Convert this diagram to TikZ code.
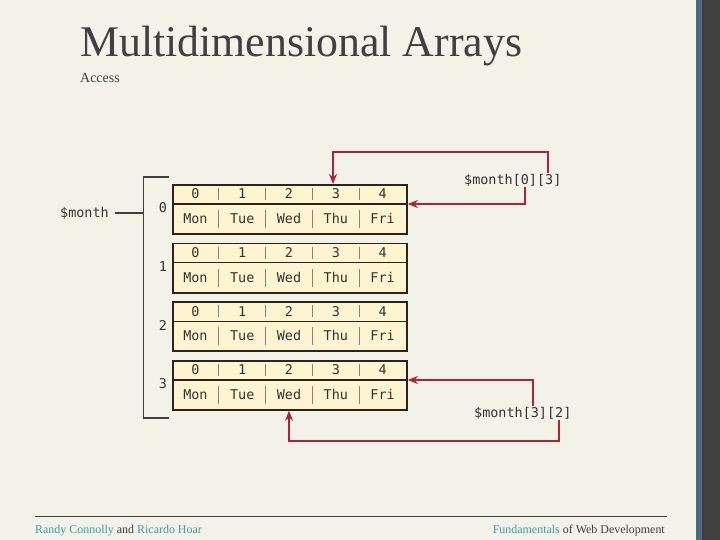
\documentclass[tikz,border=0pt]{standalone}
\usepackage{fontspec}
\setmainfont{Liberation Serif}
\newfontfamily\cellfont{DejaVu Sans Mono}
\usetikzlibrary{arrows.meta}
\definecolor{bg}{RGB}{242,242,232}
\definecolor{cellfill}{RGB}{255,244,208}
\definecolor{arrowred}{RGB}{178,34,52}
\definecolor{footteal}{RGB}{60,158,168}
\definecolor{stripblue}{RGB}{78,106,126}
\definecolor{stripdark}{RGB}{64,64,64}
\definecolor{txt}{RGB}{64,64,64}
\definecolor{celltxt}{RGB}{50,50,50}
\definecolor{boxline}{RGB}{40,36,30}
\definecolor{divgray}{RGB}{130,130,130}
\tikzset{
  rowbox/.style={draw=boxline, line width=1.8bp, fill=cellfill, minimum width=234bp, minimum height=49bp, inner sep=0, anchor=north west},
  celltext/.style={font=\cellfont\fontsize{13.5}{15}\selectfont, text=celltxt, inner sep=0},
  sepline/.style={draw=boxline, line width=1.6bp},
  divline/.style={draw=divgray, line width=0.8bp},
  bracketline/.style={draw=txt, line width=1.5bp},
  redarrow/.style={draw=arrowred, line width=1.8bp, -{Stealth[length=10bp,width=8bp]}},
}
\begin{document}
\begin{tikzpicture}[x=1bp,y=-1bp]
\fill[bg] (0,0) rectangle (720,540);
\fill[stripblue] (696,0) rectangle (702,540);
\fill[stripdark] (702,0) rectangle (720,540);
\useasboundingbox (0,0) rectangle (720,540);

\node[anchor=base west, inner sep=0, font=\fontsize{44}{48}\selectfont, text=txt] (title) at (80,57) {Multidimensional Arrays};
\node[anchor=base west, inner sep=0, font=\fontsize{14}{16}\selectfont, text=txt] (sub) at (80,83) {Access};

\foreach \r/\t in {0/184,1/242.7,2/301.3,3/360}{
  \node[rowbox] (row\r) at (172,\t) {};
  \coordinate (sep\r) at (172,\t+20);
  \draw[sepline] (row\r.west |- sep\r) -- (row\r.east |- sep\r);
  \foreach \k in {1,2,3,4}{
    \draw[divline] (172+46.8*\k,\t+4) -- (172+46.8*\k,\t+16);
    \draw[divline] (172+46.8*\k,\t+26) -- (172+46.8*\k,\t+44);
  }
  \foreach \k/\d in {0/Mon,1/Tue,2/Wed,3/Thu,4/Fri}{
    \node[celltext] (h\r\k) at (172+46.8*\k+23.4,\t+10) {\k};
    \node[celltext] (c\r\k) at (172+46.8*\k+23.4,\t+34.5) {\d};
  }
  \node[celltext] (idx\r) at (163,\t+24) {\r};
}

% bracket
\coordinate (btop) at (143.5,177);
\coordinate (bbot) at (143.5,418);
\draw[bracketline] (169,177) -- (btop) -- (bbot) -- (169,418);
\node[celltext, anchor=west] (month) at (60,213) {\$month};
\draw[bracketline] ([xshift=6bp]month.east) -- (btop |- month.east);

% access labels
\node[celltext, anchor=west, inner sep=1bp] (m03) at (463,180) {\$month[0][3]};
\node[celltext, anchor=west, inner sep=1bp] (m32) at (473,413) {\$month[3][2]};

\coordinate (a1) at (548,152);
\draw[redarrow] (m03.north -| a1) -- (a1) -| ([xshift=-2.8bp]h03.center |- row0.north);
\coordinate (a2) at (525,0);
\draw[redarrow] (m03.south -| a2) |- (row0.east |- sep0);
\coordinate (a3) at (533,0);
\draw[redarrow] (m32.north -| a3) |- (row3.east |- sep3);
\coordinate (a4) at (559,441);
\draw[redarrow] (m32.south -| a4) -- (a4) -| (c32.center |- row3.south);

% footer
\draw[draw=txt, line width=1bp] (35,516) -- (667,516);
\node[anchor=base west, inner sep=0, font=\fontsize{12}{14}\selectfont, text=txt] (fl) at (35,533) {\textcolor{footteal}{Randy Connolly} and \textcolor{footteal}{Ricardo Hoar}};
\node[anchor=base east, inner sep=0, font=\fontsize{12}{14}\selectfont, text=txt] (fr) at (665,533) {\textcolor{footteal}{Fundamentals} of Web Development};
\end{tikzpicture}
\end{document}
